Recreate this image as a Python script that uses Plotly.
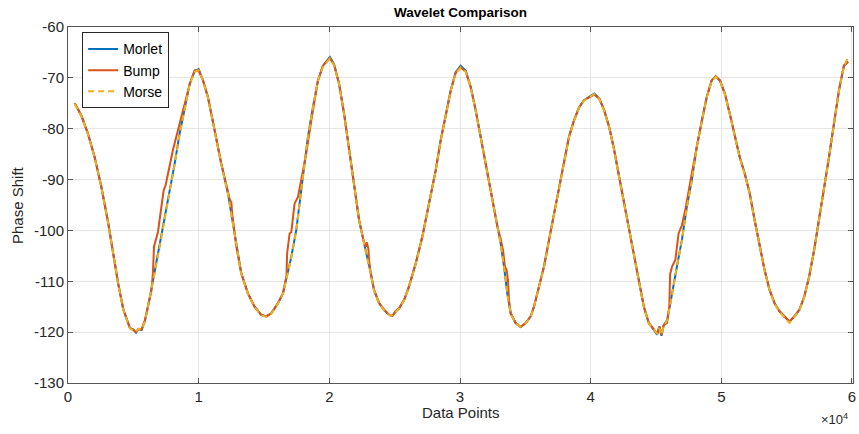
import plotly.graph_objects as go

# ---------------- data ----------------
morlet_x = [510, 1020, 1530, 2040, 2550, 3060, 3850, 4230, 4740, 5000, 5200, 5400, 5630, 5890,
            6270, 6660, 7010, 7395, 7780, 8160, 8540, 8925, 9310, 9690, 10000, 10330, 10710,
            11220, 11730, 12240, 12500, 12880, 13260, 13770, 14280, 14790, 15170, 15560, 16070,
            16450, 16830, 17090, 17470, 17850, 18100, 18360, 18740, 19130, 19510, 20040, 20360,
            20750, 21130, 21510, 21890, 22280, 22660, 22910, 23170, 23420, 23810, 24190, 24570,
            24830, 25080, 25340, 25720, 26100, 26610, 27120, 27630, 28140, 28520, 28910, 29290,
            29670, 30050, 30440, 30820, 31200, 31580, 31970, 32350, 32730, 33110, 33370, 33620,
            33880, 34260, 34640, 35030, 35410, 35660, 36050, 36430, 36810, 37190, 37580, 37960,
            38340, 38720, 39110, 39490, 40020, 40280, 40660, 41040, 41420, 41800, 42180, 42560,
            42940, 43320, 43700, 44070, 44450, 44830, 45090, 45260, 45420, 45590, 45850, 46100,
            46350, 46600, 46980, 47360, 47740, 48120, 48500, 48880, 49260, 49560, 49890, 50270,
            50650, 51030, 51410, 51790, 52170, 52550, 52930, 53310, 53690, 54070, 54450, 54830,
            55210, 55590, 55970, 56350, 56720, 57100, 57480, 57860, 58240, 58620, 59000, 59380,
            59700]
morlet_y = [-75.0, -77.4, -81.0, -85.6, -91.4, -98.3, -110.6, -115.5, -119.2, -119.5, -120.1, -119.4, -119.6, -117.8,
            -113.1, -107.8, -103.2, -98.0, -92.7, -86.9, -81.0, -75.8, -71.2, -68.7, -68.3, -70.5, -73.8,
            -80.3, -86.9, -92.7, -96.7, -103.2, -108.4, -112.4, -115.0, -116.6, -116.9, -116.3, -114.3,
            -112.4, -108.4, -105.2, -99.9, -92.1, -86.2, -81.6, -75.8, -70.5, -67.6, -65.9, -67.3,
            -71.2, -77.1, -84.2, -90.8, -98.0, -102.5, -105.2, -108.4, -111.7, -114.3, -115.6, -116.6,
            -116.8, -115.9, -115.3, -113.7, -111.0, -106.5, -101.2, -94.7, -88.2, -82.3, -77.1, -72.5,
            -68.9, -67.6, -68.6, -71.8, -76.4, -81.6, -86.9, -92.1, -98.0, -102.5, -107.1, -112.4,
            -116.3, -118.2, -119.0, -118.2, -116.9, -115.0, -111.0, -107.1, -101.9, -96.7, -91.4, -86.2,
            -81.6, -78.4, -75.8, -74.4, -73.5, -73.1, -74.1, -76.4, -79.7, -84.2, -89.5, -94.7,
            -99.9, -105.2, -110.4, -115.0, -118.2, -119.5, -120.5, -118.9, -120.7, -118.6, -117.6, -114.3,
            -111.0, -107.1, -101.9, -95.4, -90.1, -83.6, -78.4, -73.8, -70.5, -69.7, -70.5, -73.1,
            -77.1, -81.6, -85.6, -88.8, -92.7, -98.0, -103.2, -107.8, -111.7, -114.3, -115.9, -116.9,
            -117.9, -116.9, -115.6, -113.0, -109.1, -103.9, -98.0, -91.4, -85.6, -79.0, -72.5, -67.6,
            -66.8]

bump_x = [510, 1020, 1530, 2040, 2550, 3060, 3850, 4230, 4740, 5000, 5200, 5400, 5630, 5890,
          6270, 6375, 6500, 6580, 6885, 7140, 7320, 7470, 7650, 8030, 8415, 8800, 9310, 9690,
          10000, 10330, 10710, 11220, 11730, 12240, 12370, 12500, 12570, 12880, 13260, 13770,
          14280, 14790, 15170, 15560, 16070, 16450, 16720, 16770, 16960, 17090, 17340, 17600,
          17850, 18230, 18620, 19130, 19510, 20040, 20360, 20750, 21130, 21510, 21890, 22280,
          22660, 22785, 22860, 22990, 23040, 23170, 23420, 23810, 24190, 24570, 24830, 25080,
          25340, 25720, 26100, 26610, 27120, 27630, 28140, 28520, 28910, 29290, 29670, 30050,
          30440, 30820, 31200, 31580, 31970, 32350, 32730, 32860, 33110, 33290, 33440, 33570,
          33670, 33750, 33880, 34260, 34640, 35030, 35410, 35660, 36050, 36430, 36810, 37190,
          37580, 37960, 38340, 38720, 39110, 39490, 40020, 40280, 40660, 41040, 41420, 41800,
          42180, 42560, 42940, 43320, 43700, 44070, 44450, 44830, 45090, 45260, 45420, 45590,
          45850, 46020, 46080, 46230, 46480, 46730, 46980, 47240, 47490, 47740, 48120, 48500,
          48880, 49260, 49560, 49890, 50270, 50650, 51030, 51410, 51790, 52170, 52550, 52930,
          53310, 53690, 54070, 54450, 54830, 55210, 55590, 55970, 56350, 56720, 57100, 57480,
          57860, 58240, 58620, 59000, 59380, 59700]
bump_y = [-75.0, -77.4, -81.0, -85.6, -91.4, -98.3, -110.6, -115.5, -119.2, -119.5, -120.0, -119.4, -119.5, -117.6,
          -113.1, -112.0, -108.4, -103.2, -100.3, -96.0, -92.1, -91.1, -88.8, -84.2, -80.3, -76.6, -71.3, -68.5,
          -68.6, -70.5, -73.8, -80.3, -86.9, -92.4, -93.8, -94.5, -96.8, -103.2, -108.4, -112.4,
          -115.0, -116.6, -116.9, -116.3, -114.3, -112.4, -109.0, -104.5, -100.6, -100.3, -94.7, -93.4,
          -90.1, -84.9, -78.4, -70.5, -67.6, -66.1, -67.4, -71.2, -77.1, -84.2, -90.8, -98.0,
          -102.5, -103.2, -102.3, -103.6, -105.9, -108.4, -111.7, -114.3, -115.6, -116.6, -116.8, -115.9,
          -115.3, -113.7, -111.0, -106.5, -101.2, -94.7, -88.2, -82.3, -77.1, -72.5, -69.0, -67.9,
          -68.8, -71.8, -76.4, -81.6, -86.9, -92.1, -98.0, -99.3, -101.6, -103.9, -107.1, -107.8,
          -109.7, -113.7, -116.3, -118.2, -119.0, -118.2, -116.9, -115.0, -111.0, -107.1, -101.9, -96.7,
          -91.4, -86.2, -81.6, -78.4, -75.8, -74.4, -73.6, -73.3, -74.1, -76.4, -79.7, -84.2,
          -89.5, -94.7, -99.9, -105.2, -110.4, -115.0, -118.2, -119.5, -120.3, -118.9, -120.5, -118.6,
          -118.2, -115.0, -108.6, -107.1, -105.8, -100.6, -99.0, -96.0, -92.1, -88.8, -83.6, -78.4,
          -73.8, -70.5, -69.7, -70.5, -73.1, -77.1, -81.6, -85.6, -88.8, -92.7, -98.0, -103.2,
          -107.8, -111.7, -114.3, -115.9, -116.9, -117.9, -116.9, -115.6, -113.0, -109.1, -103.9, -98.0,
          -91.4, -85.6, -79.0, -72.5, -67.6, -66.9]

morse_x = morlet_x
morse_y = [-75.1, -77.5, -81.1, -85.7, -91.5, -98.4, -110.7, -115.6, -119.3, -119.7, -120.0, -119.3, -119.5, -117.9,
           -113.2, -107.9, -103.3, -98.1, -92.8, -87.0, -81.1, -75.9, -71.3, -68.8, -68.5, -70.6, -73.9,
           -80.4, -87.0, -92.8, -96.8, -103.3, -108.5, -112.5, -115.1, -116.7, -117.0, -116.4, -114.4,
           -112.5, -108.5, -105.3, -100.0, -92.2, -86.3, -81.7, -75.9, -70.6, -67.8, -66.2, -67.5,
           -71.3, -77.2, -84.3, -90.9, -98.1, -102.6, -105.3, -108.5, -111.8, -114.4, -115.7, -116.7,
           -116.7, -116.0, -115.4, -113.8, -111.1, -106.6, -101.3, -94.8, -88.3, -82.4, -77.2, -72.6,
           -69.1, -68.0, -68.8, -71.9, -76.5, -81.7, -87.0, -92.2, -98.1, -102.6, -107.2, -112.5,
           -116.4, -118.3, -118.9, -118.3, -117.0, -115.1, -111.1, -107.2, -102.0, -96.8, -91.5, -86.3,
           -81.7, -78.5, -75.9, -74.5, -73.6, -73.2, -74.2, -76.5, -79.8, -84.3, -89.6, -94.8,
           -100.0, -105.3, -110.5, -115.1, -118.3, -119.6, -120.3, -119.2, -120.5, -118.8, -117.7, -114.4,
           -111.1, -107.2, -102.0, -95.5, -90.2, -83.7, -78.5, -73.9, -70.6, -69.8, -70.6, -73.2,
           -77.2, -81.7, -85.7, -88.9, -92.8, -98.1, -103.3, -107.9, -111.8, -114.4, -116.0, -117.0,
           -118.2, -117.0, -115.7, -113.1, -109.2, -104.0, -98.1, -91.5, -85.7, -79.1, -72.6, -67.7,
           -66.0]

series_names = ["Morlet", "Bump", "Morse"]
x_tick_vals = [0, 10000, 20000, 30000, 40000, 50000, 60000]
x_tick_text = ["0", "1", "2", "3", "4", "5", "6"]
y_tick_vals = [-130, -120, -110, -100, -90, -80, -70, -60]
y_tick_text = ["-130", "-120", "-110", "-100", "-90", "-80", "-70", "-60"]

# ---------------- figure ----------------
FONT = "Liberation Sans, Arial, Helvetica, sans-serif"
TXT = "#262626"
AX = "#555555"
GRID = "#e6e6e6"

fig = go.Figure()
fig.add_trace(go.Scatter(x=morlet_x, y=morlet_y, mode="lines", name=series_names[0],
                         line=dict(color="#0072BD", width=2)))
fig.add_trace(go.Scatter(x=bump_x, y=bump_y, mode="lines", name=series_names[1],
                         line=dict(color="#D95319", width=2)))
fig.add_trace(go.Scatter(x=morse_x, y=morse_y, mode="lines", name=series_names[2],
                         line=dict(color="#EDB120", width=2, dash="6px,4px")))

fig.update_layout(
    width=859, height=434,
    margin=dict(l=68, r=6, t=27, b=51, autoexpand=False),
    paper_bgcolor="white", plot_bgcolor="white",
    font=dict(family=FONT, size=15, color=TXT),
    title=dict(text="<b>Wavelet Comparison</b>", x=(68 + 853) / 2 / 859, xanchor="center",
               y=1 - 12 / 434, yanchor="middle", yref="container",
               font=dict(size=13.5, color="black")),
    showlegend=True,
    legend=dict(x=0.018, y=0.985, xanchor="left", yanchor="top",
                bgcolor="white", bordercolor="#262626", borderwidth=1,
                font=dict(size=14, color="black"), tracegroupgap=0,
                itemwidth=30),
)

fig.update_xaxes(range=[0, 60077], tickvals=x_tick_vals, ticktext=x_tick_text,
                 automargin=False,
                 showgrid=True, gridcolor=GRID, gridwidth=1,
                 showline=True, linecolor=AX, linewidth=1, mirror="ticks",
                 ticks="inside", ticklen=5, tickcolor=AX,
                 zeroline=False, tickfont=dict(size=15, color=TXT))
fig.update_yaxes(range=[-130, -60], tickvals=y_tick_vals, ticktext=y_tick_text,
                 automargin=False,
                 showgrid=True, gridcolor=GRID, gridwidth=1,
                 showline=True, linecolor=AX, linewidth=1, mirror="ticks",
                 ticks="inside", ticklen=5, tickcolor=AX,
                 zeroline=False, tickfont=dict(size=15, color=TXT))

fig.add_annotation(text="Data Points", xref="paper", yref="paper", x=0.5, y=0,
                   yshift=-29, xanchor="center", yanchor="middle", showarrow=False,
                   font=dict(size=15, color=TXT))
fig.add_annotation(text="Phase Shift", xref="paper", yref="paper", x=0, y=0.5,
                   xshift=-51, textangle=-90, xanchor="center", yanchor="middle",
                   showarrow=False, font=dict(size=15, color=TXT))
fig.add_annotation(text="×10<sup>4</sup>", xref="paper", yref="paper", x=1, y=0,
                   xshift=-19, yshift=-36, xanchor="center", yanchor="middle",
                   showarrow=False, font=dict(size=13, color=TXT))

fig.write_html("out.html", config={"displayModeBar": False},
               post_script="document.body.style.margin='0px';document.body.style.padding='0px';")
